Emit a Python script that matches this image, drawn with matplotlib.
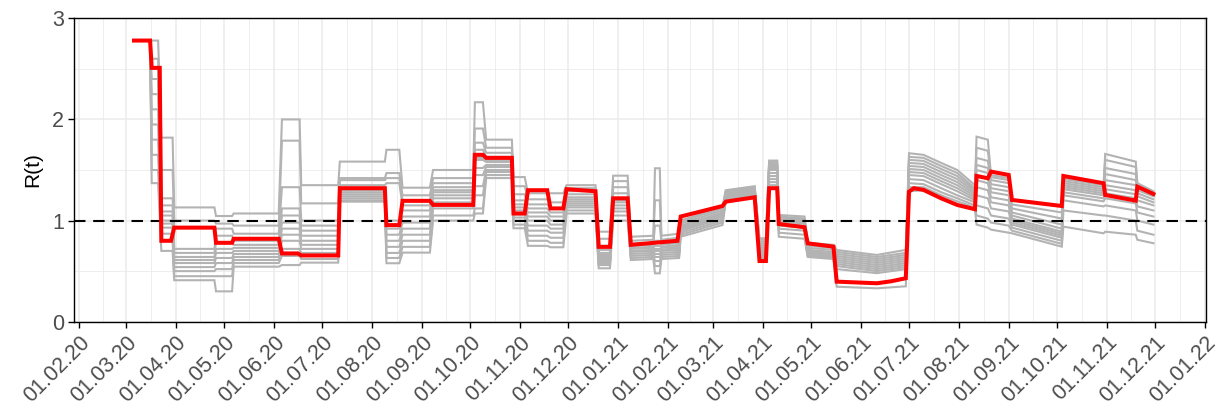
import datetime as dt
import matplotlib
matplotlib.use("Agg")
import matplotlib.pyplot as plt
import matplotlib.dates as mdates
import pandas as pd

plt.rcParams['font.family'] = ['Liberation Sans', 'DejaVu Sans']

BASE_DATE = "2020-02-01"   # day 0 of all day offsets below

# ---- red (main estimate) : knots (day offset, R) ----
red_days = [34, 44, 45, 50, 51, 57, 59, 84, 85, 95, 96, 124, 126, 136, 138, 161,
            162, 190, 191, 199, 201, 218, 220, 245, 246, 251, 253, 269, 270, 277,
            279, 291, 293, 301, 303, 321, 323, 330, 332, 341, 343, 372, 374, 386,
            400, 402, 420, 423, 427, 429, 434, 435, 451, 453, 469, 471, 496, 505,
            514, 516, 519, 525, 536, 546, 557, 558, 565, 567, 578, 580, 611, 612,
            637, 638, 657, 658, 668]
red_values = [2.78, 2.78, 2.51, 2.51, 0.80, 0.80, 0.93, 0.93, 0.78, 0.78, 0.82, 0.82,
              0.675, 0.675, 0.655, 0.655, 1.32, 1.32, 0.955, 0.955, 1.195, 1.195,
              1.155, 1.155, 1.65, 1.65, 1.62, 1.62, 1.07, 1.07, 1.30, 1.30, 1.12, 1.12,
              1.31, 1.29, 0.74, 0.74, 1.22, 1.22, 0.76, 0.80, 1.04, 1.088, 1.144,
              1.187, 1.23, 0.60, 0.60, 1.32, 1.32, 0.966, 0.934, 0.775, 0.742, 0.396,
              0.38, 0.40, 0.43, 1.286, 1.32, 1.303, 1.22, 1.154, 1.112, 1.441, 1.418,
              1.484, 1.451, 1.204, 1.144, 1.441, 1.369, 1.253, 1.197, 1.335, 1.263]

# ---- gray (ensemble) : segments with 12 levels each ----
gray_seg_start = [41, 45, 51, 59, 85, 96, 126, 138, 162, 191, 201, 220, 246, 253, 270,
                  279, 293, 303, 323, 332, 343, 358, 362, 374, 402, 423, 429, 435, 453,
                  471, 496, 516, 525, 536, 546, 558, 567, 580, 612, 638, 658]
gray_seg_end = [44, 49, 58, 84, 95, 124, 137, 161, 190, 199, 218, 245, 251, 269, 277,
                291, 301, 321, 330, 341, 357, 361, 373, 400, 420, 427, 434, 451, 469,
                496, 514, 525, 536, 546, 557, 565, 578, 611, 637, 657, 668]
gray_levels_start = [
    [2.78, 2.78, 2.78, 2.78, 2.78, 2.78, 2.78, 2.78, 2.78, 2.78, 2.78, 2.78],
    [1.37, 1.50, 1.65, 1.80, 1.95, 2.10, 2.25, 2.40, 2.50, 2.50, 2.60, 2.78],
    [0.70, 0.80, 0.87, 0.93, 0.97, 1.00, 1.05, 1.09, 1.15, 1.22, 1.50, 1.82],
    [0.41, 0.45, 0.50, 0.54, 0.58, 0.61, 0.64, 0.68, 0.72, 0.93, 1.00, 1.13],
    [0.30, 0.45, 0.52, 0.58, 0.63, 0.68, 0.72, 0.78, 0.85, 0.92, 0.97, 1.045],
    [0.544, 0.58, 0.61, 0.64, 0.67, 0.70, 0.73, 0.76, 0.80, 0.87, 0.95, 1.07],
    [0.56, 0.65, 0.72, 0.80, 0.86, 0.92, 0.98, 1.05, 1.12, 1.33, 1.79, 2.00],
    [0.584, 0.62, 0.68, 0.72, 0.76, 0.80, 0.85, 0.90, 0.95, 1.00, 1.17, 1.35],
    [1.187, 1.20, 1.22, 1.24, 1.26, 1.28, 1.30, 1.32, 1.35, 1.40, 1.42, 1.583],
    [0.578, 0.63, 0.68, 0.74, 0.80, 0.86, 0.92, 1.00, 1.37, 1.42, 1.47, 1.70],
    [0.683, 0.74, 0.80, 0.86, 0.92, 0.98, 1.04, 1.10, 1.15, 1.20, 1.25, 1.325],
    [1.00, 1.05, 1.12, 1.18, 1.22, 1.25, 1.28, 1.30, 1.33, 1.37, 1.42, 1.50],
    [1.07, 1.12, 1.25, 1.34, 1.45, 1.52, 1.60, 1.62, 1.70, 1.77, 1.91, 2.17],
    [1.42, 1.45, 1.48, 1.50, 1.53, 1.55, 1.58, 1.60, 1.63, 1.67, 1.72, 1.80],
    [0.924, 0.96, 1.00, 1.03, 1.06, 1.10, 1.13, 1.16, 1.20, 1.26, 1.34, 1.43],
    [0.75, 0.80, 0.85, 0.90, 0.95, 1.00, 1.04, 1.08, 1.12, 1.16, 1.21, 1.27],
    [0.736, 0.78, 0.83, 0.88, 0.92, 0.96, 1.00, 1.04, 1.08, 1.12, 1.18, 1.27],
    [1.07, 1.10, 1.13, 1.15, 1.17, 1.19, 1.21, 1.23, 1.26, 1.29, 1.32, 1.35],
    [0.528, 0.56, 0.58, 0.60, 0.62, 0.64, 0.66, 0.68, 0.71, 0.75, 0.82, 0.89],
    [1.00, 1.05, 1.09, 1.12, 1.15, 1.18, 1.20, 1.22, 1.27, 1.33, 1.39, 1.444],
    [0.61, 0.63, 0.65, 0.67, 0.69, 0.70, 0.72, 0.73, 0.75, 0.77, 0.80, 0.84],
    [0.478, 0.55, 0.60, 0.64, 0.67, 0.70, 0.72, 0.75, 0.80, 0.95, 1.20, 1.517],
    [0.62, 0.64, 0.66, 0.68, 0.70, 0.71, 0.73, 0.74, 0.76, 0.78, 0.81, 0.85],
    [0.84, 0.86, 0.88, 0.90, 0.91, 0.92, 0.93, 0.94, 0.95, 0.97, 0.99, 1.00],
    [1.19, 1.20, 1.21, 1.22, 1.23, 1.24, 1.25, 1.26, 1.27, 1.28, 1.29, 1.30],
    [0.61, 0.63, 0.65, 0.67, 0.69, 0.71, 0.73, 0.75, 0.77, 0.79, 0.81, 0.825],
    [1.32, 1.35, 1.38, 1.41, 1.44, 1.47, 1.50, 1.52, 1.54, 1.56, 1.58, 1.593],
    [0.84, 0.88, 0.92, 0.95, 0.97, 0.99, 1.00, 1.01, 1.02, 1.03, 1.04, 1.055],
    [0.64, 0.65, 0.66, 0.67, 0.68, 0.69, 0.70, 0.71, 0.73, 0.75, 0.77, 0.78],
    [0.346, 0.40, 0.52, 0.55, 0.57, 0.59, 0.61, 0.63, 0.65, 0.67, 0.69, 0.709],
    [0.33, 0.38, 0.48, 0.50, 0.52, 0.54, 0.56, 0.58, 0.60, 0.62, 0.64, 0.66],
    [1.29, 1.33, 1.37, 1.41, 1.45, 1.48, 1.51, 1.54, 1.57, 1.60, 1.63, 1.666],
    [1.30, 1.33, 1.36, 1.40, 1.44, 1.47, 1.50, 1.53, 1.56, 1.59, 1.62, 1.65],
    [1.22, 1.25, 1.28, 1.32, 1.36, 1.39, 1.42, 1.45, 1.48, 1.51, 1.54, 1.57],
    [1.16, 1.19, 1.22, 1.25, 1.29, 1.32, 1.35, 1.38, 1.41, 1.44, 1.47, 1.50],
    [0.96, 1.05, 1.15, 1.25, 1.33, 1.40, 1.45, 1.50, 1.55, 1.62, 1.72, 1.83],
    [0.91, 0.98, 1.05, 1.12, 1.18, 1.23, 1.28, 1.32, 1.36, 1.40, 1.43, 1.45],
    [0.874, 0.90, 0.93, 0.96, 0.98, 1.00, 1.02, 1.05, 1.08, 1.12, 1.16, 1.20],
    [0.94, 1.10, 1.20, 1.25, 1.28, 1.31, 1.33, 1.35, 1.37, 1.39, 1.41, 1.42],
    [0.89, 1.05, 1.15, 1.22, 1.27, 1.31, 1.35, 1.40, 1.46, 1.52, 1.60, 1.659],
    [0.81, 0.90, 1.00, 1.08, 1.14, 1.20, 1.24, 1.27, 1.30, 1.33, 1.35, 1.37],
]
gray_levels_end = [
    None, None, None, None, None, None, None, None, None, None, None, None, None,
    None, None, None, None, None, None, None,
    [0.62, 0.64, 0.66, 0.68, 0.70, 0.71, 0.73, 0.74, 0.76, 0.78, 0.81, 0.85],
    None,
    [0.63, 0.65, 0.67, 0.69, 0.71, 0.73, 0.74, 0.76, 0.78, 0.80, 0.83, 0.87],
    [0.956, 0.98, 1.00, 1.02, 1.04, 1.05, 1.06, 1.07, 1.08, 1.10, 1.12, 1.137],
    [1.23, 1.24, 1.25, 1.26, 1.27, 1.28, 1.29, 1.30, 1.31, 1.32, 1.33, 1.34],
    None,
    None,
    [0.82, 0.86, 0.90, 0.93, 0.95, 0.97, 0.98, 0.99, 1.00, 1.01, 1.02, 1.04],
    [0.62, 0.63, 0.64, 0.65, 0.66, 0.67, 0.68, 0.69, 0.71, 0.73, 0.75, 0.76],
    [0.33, 0.38, 0.48, 0.50, 0.52, 0.54, 0.56, 0.58, 0.60, 0.62, 0.64, 0.66],
    [0.35, 0.42, 0.52, 0.54, 0.56, 0.58, 0.60, 0.62, 0.64, 0.66, 0.68, 0.71],
    [1.30, 1.33, 1.36, 1.40, 1.44, 1.47, 1.50, 1.53, 1.56, 1.59, 1.62, 1.65],
    [1.22, 1.25, 1.28, 1.32, 1.36, 1.39, 1.42, 1.45, 1.48, 1.51, 1.54, 1.57],
    [1.16, 1.19, 1.22, 1.25, 1.29, 1.32, 1.35, 1.38, 1.41, 1.44, 1.47, 1.50],
    [1.11, 1.13, 1.15, 1.18, 1.20, 1.22, 1.24, 1.26, 1.28, 1.30, 1.32, 1.35],
    [0.93, 1.02, 1.12, 1.22, 1.30, 1.37, 1.42, 1.47, 1.52, 1.59, 1.69, 1.80],
    [0.88, 0.95, 1.02, 1.09, 1.15, 1.20, 1.25, 1.29, 1.33, 1.37, 1.40, 1.42],
    [0.742, 0.77, 0.80, 0.83, 0.85, 0.87, 0.89, 0.92, 0.96, 1.02, 1.08, 1.14],
    [0.874, 1.05, 1.14, 1.19, 1.22, 1.25, 1.27, 1.29, 1.31, 1.33, 1.35, 1.36],
    [0.86, 1.00, 1.10, 1.17, 1.22, 1.26, 1.30, 1.35, 1.40, 1.46, 1.53, 1.583],
    [0.776, 0.86, 0.96, 1.04, 1.10, 1.15, 1.18, 1.21, 1.24, 1.26, 1.28, 1.29],
]

y_ticks = [0, 1, 2, 3]
month_ticks = pd.date_range("2020-02-01", "2022-01-01", freq="MS")

# ---------------------------------------------------------------
base = mdates.date2num(dt.datetime.fromisoformat(BASE_DATE))

fig = plt.figure(figsize=(12.27, 4.16), dpi=100)
ax = fig.add_axes([0.0606, 0.2267, 0.9219, 0.7293])

n_lines = len(gray_levels_start[0])
for i in range(n_lines):
    xs, ys = [], []
    for s in range(len(gray_seg_start)):
        v0 = gray_levels_start[s][i]
        v1 = gray_levels_end[s][i] if gray_levels_end[s] is not None else v0
        xs += [base + gray_seg_start[s], base + gray_seg_end[s]]
        ys += [v0, v1]
    ax.plot(xs, ys, color="#B3B3B3", lw=1.5, zorder=2, solid_joinstyle="miter")

ax.axhline(1, color="black", lw=1.5, ls=(0, (5.5, 3.7)), zorder=3)

ax.plot([base + d for d in red_days], red_values, color="#FF0000", lw=2.9,
        zorder=4, solid_joinstyle="miter")

# axes
ax.set_xlim(base - 3.1, base + 700.4)
ax.set_ylim(0, 3)
tick_nums = mdates.date2num(month_ticks.to_pydatetime())
ax.set_xticks(tick_nums)
ax.set_xticklabels([d.strftime("%d.%m.%y") for d in month_ticks],
                   rotation=45, ha="right", va="top", rotation_mode="anchor")
minor_x = [(a + b) / 2 for a, b in zip(tick_nums[:-1], tick_nums[1:])]
ax.set_xticks(minor_x, minor=True)
ax.set_yticks(y_ticks)
ax.set_yticks([0.5, 1.5, 2.5], minor=True)

ax.grid(which="major", color="#EBEBEB", lw=1.1, zorder=0)
ax.grid(which="minor", color="#EBEBEB", lw=0.6, zorder=0)
ax.set_axisbelow(True)

ax.tick_params(which="major", direction="out", length=4.5, width=1.0, color="black",
               labelsize=15.5, labelcolor="#4D4D4D", pad=3)
ax.tick_params(which="minor", length=0)
for sp in ax.spines.values():
    sp.set_color("black")
    sp.set_linewidth(1.0)

ax.set_ylabel("R(t)", fontsize=15, color="black", labelpad=7)

fig.savefig("out.png", dpi=100)
